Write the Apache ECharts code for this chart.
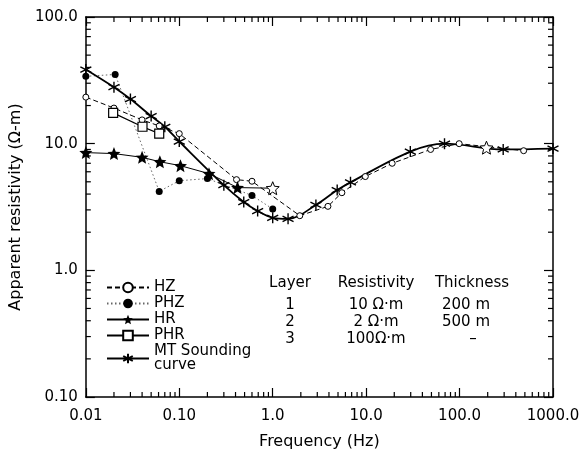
<!DOCTYPE html>
<html><head><meta charset="utf-8">
<script src="https://cdn.jsdelivr.net/npm/echarts@6/dist/echarts.min.js"></script>
<style>html,body{margin:0;padding:0;background:#fff}#c{width:583px;height:455px}</style>
</head><body><div id="c"></div>
<script>
// ---- data ----
const mtFreq  = [0.01,0.02,0.03,0.05,0.07,0.1,0.3,0.49,0.69,1.0,1.46,2.9,4.9,6.8,29.7,69,293,1000];
const mtRho   = [38.5,27.9,22.5,16.5,13.6,10.4,4.7,3.46,2.94,2.6,2.55,3.28,4.3,4.95,8.66,10.0,9.0,9.14];
const hzFreq  = [0.01,0.02,0.04,0.061,0.1,0.41,0.6,1.95,3.9,5.5,9.8,19,49,99,485];
const hzRho   = [23.3,19.1,15.4,13.8,12.0,5.2,5.05,2.7,3.2,4.1,5.5,7.0,9.0,10.0,8.8];
const phzFreq = [0.01,0.0206,0.061,0.1,0.2,0.6,1.0];
const phzRho  = [34,35.2,4.2,5.1,5.3,3.9,3.05];
const hrFreq  = [0.01,0.02,0.04,0.062,0.103,0.208,0.42,1.0];
const hrRho   = [8.5,8.35,7.8,7.2,6.7,5.8,4.5,4.45];
const hrHiFreq = [194];
const hrHiRho  = [9.3];
const phrFreq = [0.0196,0.0404,0.061];
const phrRho  = [17.5,13.6,12.0];
const xTickLabels = {'-2':'0.01','-1':'0.10','0':'1.0','1':'10.0','2':'100.0','3':'1000.0'};
const yTickLabels = {'-1':'0.10','0':'1.0','1':'10.0','2':'100.0'};
const tableHeaders = ['Layer','Resistivity','Thickness'];
const layerNums  = ['1','2','3'];
const layerRes   = ['10 Ω·m','2 Ω·m','100Ω·m'];
const layerThick = ['200 m','500 m','–'];

const FONT = 'DejaVu Sans';
const pairs = (xs, ys) => xs.map((x, i) => [x, ys[i]]);
const ASTER = 'path://M0,-10L0,10M-8.66,-5L8.66,5M-8.66,5L8.66,-5';
const STAR = 'path://M0,-10L2.65,-3.64L9.51,-3.09L4.28,1.39L5.88,8.09L0,4.5L-5.88,8.09L-4.28,1.39L-9.51,-3.09L-2.65,-3.64Z';
const openStar = {color:'#fff', borderColor:'#000', borderWidth:1};

const hrData = pairs(hrFreq, hrRho).map((p, i) => i === hrFreq.length - 1 ? {value: p, itemStyle: openStar} : p);
const hrHiData = pairs(hrHiFreq, hrHiRho).map(p => ({value: p, itemStyle: openStar}));

// minor tick values (2..9 per decade)
const minorX = [], minorY = [];
[0.01,0.1,1,10,100].forEach(d => { for (let m = 2; m <= 9; m++) minorX.push([+(m*d).toPrecision(3)]); });
[0.1,1,10].forEach(d => { for (let m = 2; m <= 9; m++) minorY.push([0.01, +(m*d).toPrecision(3)]); });

const logLbl = map => v => { const k = String(Math.round(Math.log10(v))); return map[k] !== undefined ? map[k] : ''; };
const axisCommon = {
  type: 'log', logBase: 10,
  axisLine: {show: true, lineStyle: {color: '#000', width: 1.5}},
  axisTick: {show: true, inside: true, length: 9, lineStyle: {color: '#000', width: 1.2}},
  splitLine: {show: false}, minorTick: {show: false}
};

const tableText = [];
const cols = [290, 376, 472];
const colThickOffsets = [466, 466, 473];
const txt = (t, x, y) => ({type:'text', x: x, y: y, style:{text:t, font:'15px ' + FONT, fill:'#000', textAlign:'center', textVerticalAlign:'middle'}});
tableHeaders.forEach((t, i) => tableText.push(txt(t, cols[i], 283)));
const rowsY = [305, 322, 339];
layerNums.forEach((t, i) => tableText.push(txt(t, cols[0], rowsY[i])));
layerRes.forEach((t, i) => tableText.push(txt(t, cols[1], rowsY[i])));
layerThick.forEach((t, i) => tableText.push(txt(t, colThickOffsets[i], rowsY[i])));

const chart = echarts.init(document.getElementById('c'), null, {renderer: 'canvas'});
chart.setOption({
  animation: false,
  backgroundColor: '#fff',
  textStyle: {fontFamily: FONT},
  grid: {left: 75, right: 30, top: 17, bottom: 54},
  legend: {
    orient: 'vertical', left: 101, top: 275, itemWidth: 42, itemHeight: 12, itemGap: 1,
    textStyle: {fontSize: 15, fontFamily: FONT, color: '#000', lineHeight: 14},
    data: ['HZ','PHZ','HR','PHR','MT Sounding curve'],
    formatter: n => n === 'MT Sounding curve' ? 'MT Sounding\ncurve' : n
  },
  xAxis: [
    Object.assign({}, axisCommon, {
      min: 0.01, max: 1000, position: 'bottom',
      name: 'Frequency (Hz)', nameLocation: 'middle', nameGap: 37,
      nameTextStyle: {fontSize: 16, fontFamily: FONT, color: '#000'},
      axisLabel: {show: true, margin: 12, fontSize: 15, fontFamily: FONT, color: '#000', formatter: logLbl(xTickLabels), showMinLabel: true, showMaxLabel: true}
    }),
    Object.assign({}, axisCommon, {min: 0.01, max: 1000, position: 'top', axisLabel: {show: false}})
  ],
  yAxis: [
    Object.assign({}, axisCommon, {
      min: 0.1, max: 100, position: 'left',
      name: 'Apparent resistivity (Ω-m)', nameLocation: 'middle', nameGap: 49,
      nameTextStyle: {fontSize: 16, fontFamily: FONT, color: '#000'},
      axisLabel: {show: true, margin: 8, fontSize: 15, fontFamily: FONT, color: '#000', formatter: logLbl(yTickLabels), showMinLabel: true, showMaxLabel: true}
    }),
    Object.assign({}, axisCommon, {min: 0.1, max: 100, position: 'right', axisLabel: {show: false}})
  ],
  graphic: tableText,
  series: [
    {name: 'MT Sounding curve', type: 'line', data: pairs(mtFreq, mtRho), smooth: 0.35,
     symbol: ASTER, symbolSize: 11, lineStyle: {color: '#000', width: 1.8},
     itemStyle: {color: '#000', borderColor: '#000', borderWidth: 1.4}, z: 5},
    {name: 'HZ', type: 'line', data: pairs(hzFreq, hzRho),
     symbol: 'circle', symbolSize: 6, lineStyle: {color: '#000', width: 1, type: [5, 3]},
     itemStyle: {color: '#fff', borderColor: '#000', borderWidth: 1}, z: 6},
    {name: 'PHZ', type: 'line', data: pairs(phzFreq, phzRho),
     symbol: 'circle', symbolSize: 7, lineStyle: {color: '#666', width: 1, type: [1.5, 2.5]},
     itemStyle: {color: '#000'}, z: 4},
    {name: 'HR', type: 'line', data: hrData,
     symbol: STAR, symbolSize: 13, lineStyle: {color: '#000', width: 1},
     itemStyle: {color: '#000'}, z: 7},
    {name: 'HR', type: 'line', data: hrHiData,
     symbol: STAR, symbolSize: 13, lineStyle: {color: '#000', width: 1},
     itemStyle: {color: '#000'}, z: 7},
    {name: 'PHR', type: 'line', data: pairs(phrFreq, phrRho),
     symbol: 'rect', symbolSize: 9, lineStyle: {color: '#000', width: 1.2},
     itemStyle: {color: '#fff', borderColor: '#000', borderWidth: 1.2}, z: 6},
    {type: 'custom', silent: true, clip: false, data: minorX, encode: {x: 0},
     renderItem: (p, api) => {
       const v = api.value(0);
       const b = api.coord([v, 0.1]), t = api.coord([v, 100]);
       return {type: 'group', children: [
         {type: 'line', shape: {x1: b[0], y1: b[1], x2: b[0], y2: b[1] - 5}, style: {stroke: '#000', lineWidth: 1.2}},
         {type: 'line', shape: {x1: t[0], y1: t[1], x2: t[0], y2: t[1] + 5}, style: {stroke: '#000', lineWidth: 1.2}}
       ]};
     }},
    {type: 'custom', silent: true, clip: false, data: minorY, encode: {x: 0, y: 1},
     renderItem: (p, api) => {
       const v = api.value(1);
       const l = api.coord([0.01, v]), r = api.coord([1000, v]);
       return {type: 'group', children: [
         {type: 'line', shape: {x1: l[0], y1: l[1], x2: l[0] + 5, y2: l[1]}, style: {stroke: '#000', lineWidth: 1.2}},
         {type: 'line', shape: {x1: r[0], y1: r[1], x2: r[0] - 5, y2: r[1]}, style: {stroke: '#000', lineWidth: 1.2}}
       ]};
     }}
  ]
});
</script></body></html>
